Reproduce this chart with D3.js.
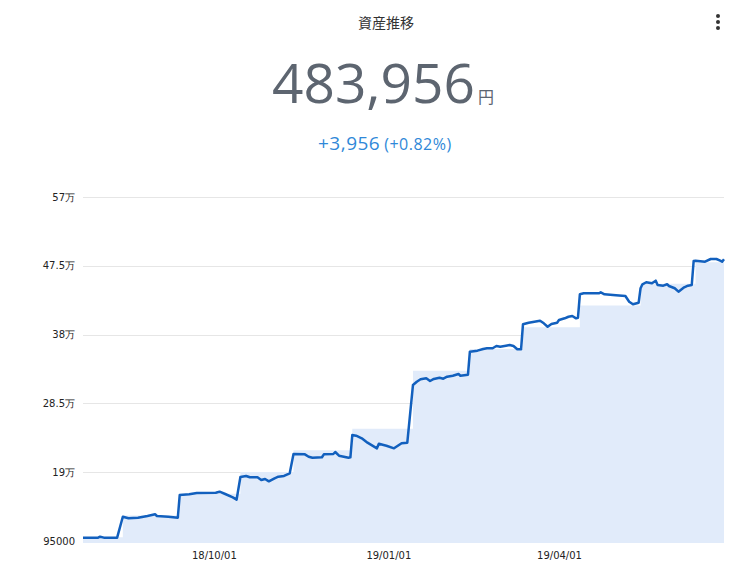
<!DOCTYPE html>
<html><head><meta charset="utf-8">
<script src="https://cdn.jsdelivr.net/npm/d3@7/dist/d3.min.js"></script>
<style>
html,body{margin:0;padding:0;background:#fff;}
svg{display:block;}
</style></head>
<body>
<svg id="chart" width="748" height="577"></svg>
<script>
// ---- data ----
const title = "資産推移";
const totalValue = "483,956";
const currency = "円";
const changeValue = "+3,956";
const changePct = "(+0.82%)";

const assetDates = ["2018-07-24","2018-08-01","2018-08-02","2018-08-04","2018-08-11","2018-08-14","2018-08-17","2018-08-22","2018-08-27","2018-08-31","2018-09-01","2018-09-07","2018-09-12","2018-09-13","2018-09-18","2018-09-22","2018-10-02","2018-10-04","2018-10-07","2018-10-11","2018-10-13","2018-10-15","2018-10-18","2018-10-20","2018-10-24","2018-10-26","2018-10-28","2018-10-30","2018-11-02","2018-11-04","2018-11-07","2018-11-10","2018-11-12","2018-11-18","2018-11-20","2018-11-22","2018-11-27","2018-11-28","2018-12-03","2018-12-04","2018-12-06","2018-12-11","2018-12-12","2018-12-13","2018-12-15","2018-12-18","2018-12-21","2018-12-26","2018-12-27","2018-12-31","2019-01-04","2019-01-08","2019-01-11","2019-01-14","2019-01-16","2019-01-18","2019-01-21","2019-01-23","2019-01-25","2019-01-28","2019-01-30","2019-02-01","2019-02-04","2019-02-07","2019-02-08","2019-02-12","2019-02-13","2019-02-17","2019-02-20","2019-02-22","2019-02-25","2019-02-27","2019-03-01","2019-03-04","2019-03-06","2019-03-08","2019-03-10","2019-03-12","2019-03-13","2019-03-16","2019-03-19","2019-03-22","2019-03-24","2019-03-26","2019-03-28","2019-03-31","2019-04-01","2019-04-04","2019-04-06","2019-04-08","2019-04-10","2019-04-11","2019-04-12","2019-04-14","2019-04-18","2019-04-22","2019-04-23","2019-04-25","2019-05-01","2019-05-06","2019-05-08","2019-05-10","2019-05-13","2019-05-14","2019-05-15","2019-05-17","2019-05-20","2019-05-22","2019-05-23","2019-05-26","2019-05-28","2019-05-29","2019-06-01","2019-06-03","2019-06-06","2019-06-08","2019-06-10","2019-06-11","2019-06-12","2019-06-17","2019-06-20","2019-06-23","2019-06-25","2019-06-26","2019-06-27"];
const assetValues = [99400,99400,100700,99400,99400,128300,126100,126950,129300,131650,129300,128300,126950,158300,159300,161100,161500,162900,159700,155100,152000,183200,184600,182800,182800,179000,180400,177200,181400,183600,184600,188300,214950,214500,211200,209800,210400,214500,214950,217700,212600,209800,210400,241200,240200,236600,230600,222800,229200,226400,222800,229700,230600,310300,314800,318150,319500,315800,318600,320400,319000,321700,323100,325500,323100,324500,356300,357700,360000,361000,361000,364150,363200,364600,365500,364150,359600,359600,394100,396300,397700,399100,395500,390800,394550,396300,400100,402400,404600,405600,402400,403250,435600,437000,437000,437000,438300,435600,434200,433200,425350,421800,424000,443900,449400,452200,450800,454400,448400,447500,449400,447000,443900,439200,445250,447500,448400,481600,482000,480600,484350,484350,482000,480600,483956];

const principalDates = ["2018-07-24","2018-08-14","2018-09-13","2018-10-15","2018-11-12","2018-12-13","2019-01-14","2019-02-13","2019-03-13","2019-04-12","2019-05-14","2019-06-12","2019-06-27"];
const principalValues = [100000,130000,160000,190000,220000,250000,330000,360000,390000,420000,450000,480000,480000];

const yTickValues = [95000,190000,285000,380000,475000,570000];
const yTickLabels = ["95000","19万","28.5万","38万","47.5万","57万"];
const xTickDates = ["2018-10-01","2019-01-01","2019-04-01"];
const xTickLabels = ["18/10/01","19/01/01","19/04/01"];

// ---- drawing ----
const parse = d3.timeParse("%Y-%m-%d");
const asset = assetDates.map((d,i)=>({date:parse(d), value:assetValues[i]}));
const principal = principalDates.map((d,i)=>({date:parse(d), value:principalValues[i]}));

const svg = d3.select("#chart");
const m = {left:83, right:724, top:197, bottom:543};

const x = d3.scaleTime()
  .domain([parse("2018-07-24"), parse("2019-06-27")])
  .range([m.left, m.right]);
const y = d3.scaleLinear()
  .domain([92000, 570000])
  .range([m.bottom, m.top]);

// header
svg.append("text").attr("x",386).attr("y",28).attr("text-anchor","middle")
  .attr("font-family","'Noto Sans CJK JP','Noto Sans',sans-serif").attr("font-size",14)
  .attr("fill","#333").text(title);

// menu dots
svg.selectAll("circle.dot").data([0,1,2]).enter().append("circle")
  .attr("cx",718).attr("cy",d=>16+d*6).attr("r",2).attr("fill","#333");

const big = svg.append("text").attr("y",103).attr("font-family","'Open Sans','Noto Sans',sans-serif").attr("fill","#5d6570");
big.append("tspan").attr("x",272).attr("font-size",55).text(totalValue);
big.append("tspan").attr("dx",3).attr("font-size",16).attr("font-family","'Noto Sans CJK JP',sans-serif").text(currency);

const chg = svg.append("text").attr("y",150).attr("font-family","'Open Sans','Noto Sans',sans-serif").attr("fill","#2f88d8").attr("letter-spacing",0.5);
chg.append("tspan").attr("x",318).attr("font-size",19).text(changeValue);
chg.append("tspan").attr("dx",4).attr("font-size",16).text(changePct);

// gridlines
svg.append("g").selectAll("line").data(yTickValues.slice(1)).enter().append("line")
  .attr("x1",m.left).attr("x2",m.right)
  .attr("y1",d=>Math.round(y(d))+0.5).attr("y2",d=>Math.round(y(d))+0.5)
  .attr("stroke","#e6e6e6").attr("stroke-width",1);

// principal area
const area = d3.area().curve(d3.curveStepAfter)
  .x(d=>x(d.date)).y0(y(92000)).y1(d=>y(d.value));
svg.append("path").datum(principal).attr("d",area).attr("fill","#e1ebfa");

// asset line
const line = d3.line().x(d=>x(d.date)).y(d=>y(d.value));
svg.append("path").datum(asset).attr("d",line)
  .attr("fill","none").attr("stroke","#1260be").attr("stroke-width",2.5)
  .attr("stroke-linejoin","round");

// y axis
const yAxis = d3.axisLeft(y).tickValues(yTickValues)
  .tickFormat((d,i)=>yTickLabels[i]).tickSize(0).tickPadding(8);
const gy = svg.append("g").attr("transform",`translate(${m.left},0)`).call(yAxis);
gy.select(".domain").remove();
gy.selectAll("text").attr("font-family","'DejaVu Sans',sans-serif").attr("font-size",10).attr("fill","#222");

// x axis
const xAxis = d3.axisBottom(x).tickValues(xTickDates.map(parse))
  .tickFormat((d,i)=>xTickLabels[i]).tickSize(0).tickPadding(9);
const gx = svg.append("g").attr("transform",`translate(0,${m.bottom})`).call(xAxis);
gx.select(".domain").remove();
gx.selectAll("text").attr("font-family","'DejaVu Sans',sans-serif").attr("font-size",10).attr("fill","#222");
</script>
</body></html>
